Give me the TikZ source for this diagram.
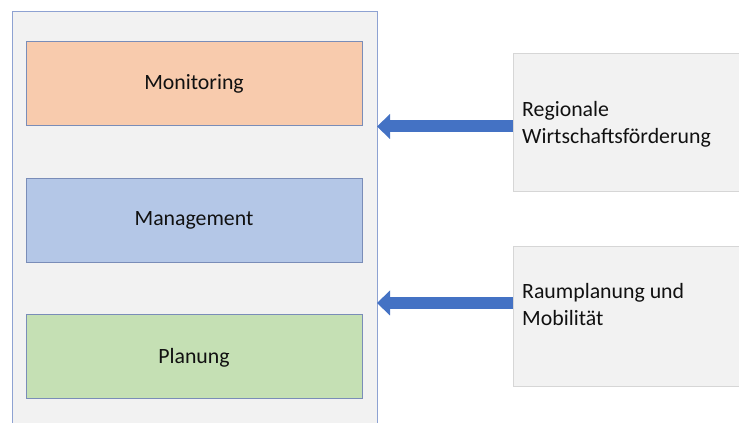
\documentclass[tikz,border=0pt]{standalone}
\usepackage{fontspec}
\setmainfont{Carlito}
\usetikzlibrary{arrows.meta}
\definecolor{panelfill}{HTML}{F2F2F2}
\definecolor{panelline}{HTML}{8EA2D2}
\definecolor{boxline}{HTML}{7A8DB8}
\definecolor{monfill}{HTML}{F8CBAD}
\definecolor{manfill}{HTML}{B4C7E7}
\definecolor{planfill}{HTML}{C5E0B4}
\definecolor{sideline}{HTML}{D6D6D6}
\definecolor{arrowblue}{HTML}{4472C4}
\definecolor{txt}{HTML}{111111}
\tikzset{
  layerbox/.style={draw=boxline, line width=0.8pt, minimum width=336pt, minimum height=84pt, inner sep=0pt, text=txt, font=\fontsize{21.8}{27}\selectfont, text depth=2pt},
  sidebox/.style={draw=sideline, fill=panelfill, line width=0.8pt, inner sep=0pt},
  sidetext/.style={anchor=west, align=left, text=txt, inner sep=0pt, font=\fontsize{21.8}{27}\selectfont},
  blockarrow/.style={draw=arrowblue, line width=12pt, -{Triangle[width=25pt,length=13pt,line width=0pt]}}
}
\begin{document}
\begin{tikzpicture}[x=1pt,y=1pt]
\useasboundingbox (0,0) rectangle (739,423);
% outer panel
\draw[fill=panelfill, draw=panelline, line width=0.9pt] (12,412) rectangle (377,-10);
\coordinate (panelE) at (377,200);
% layer boxes
\node[layerbox, fill=monfill] (mon) at (194,340) {Monitoring};
\node[layerbox, fill=manfill] (man) at (194,203) {Management};
\node[layerbox, fill=planfill] (plan) at (194,66.5) {Planung};
% side boxes
\draw[sidebox] (513,370) rectangle (750,232);
\coordinate (rb1) at (513,296.5);
\draw[sidebox] (513,177) rectangle (750,37);
\coordinate (rb2) at (513,120);
\node[sidetext] (t1) at (522,298.5) {Regionale\\Wirtschaftsförderung};
\node[sidetext] (t2) at (522,118.5) {Raumplanung und\\Mobilität};
% arrows
\draw[blockarrow] (rb1) -- (rb1 -| panelE);
\draw[blockarrow] (rb2) -- (rb2 -| panelE);
\end{tikzpicture}
\end{document}
